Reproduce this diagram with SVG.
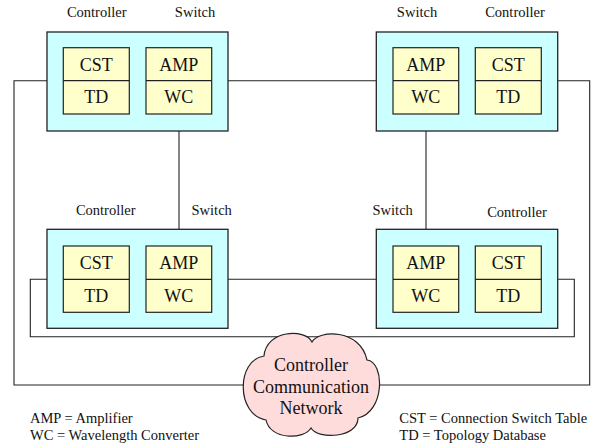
<svg xmlns="http://www.w3.org/2000/svg" width="592" height="446" viewBox="0 0 592 446">
<style>
text{font-family:'Liberation Serif','Times New Roman',serif;fill:#111}
.lbl{font-size:14.5px;text-anchor:middle}
.in{font-size:18px;text-anchor:middle}
.leg{font-size:14.5px}
.node{fill:#ccffff;stroke:#222;stroke-width:1.3}
.cell{fill:#ffffcc;stroke:#222;stroke-width:1.2}
.wire{fill:none;stroke:#222;stroke-width:1.1}
.cloud{fill:#ffdcdc;stroke:#222;stroke-width:1.2}
</style>
<g id="connectors">
<polyline class="wire" points="47,80.7 14,80.7 14,385 243,385"/>
<polyline class="wire" points="557.7,80.7 589.7,80.7 589.7,385 377.5,385"/>
<line class="wire" x1="228" y1="80.7" x2="376.3" y2="80.7"/>
<line class="wire" x1="179" y1="131" x2="179" y2="229.3"/>
<line class="wire" x1="426" y1="131" x2="426" y2="229.3"/>
<line class="wire" x1="228" y1="279.3" x2="376.3" y2="279.3"/>
<polyline class="wire" points="47,279.3 30.3,279.3 30.3,336.7 574.3,336.7 574.3,279.3 557.7,279.3"/>
</g>
<g id="node-tl">
<rect class="node" x="47" y="32" width="181" height="99"/>
<rect class="cell" x="63.3" y="47.7" width="66" height="66.3"/>
<line class="cell" x1="63.3" y1="80.7" x2="129.3" y2="80.7"/>
<rect class="cell" x="146" y="47.7" width="65.7" height="66.3"/>
<line class="cell" x1="146" y1="80.7" x2="211.7" y2="80.7"/>
<text class="in" x="96.3" y="70.7">CST</text>
<text class="in" x="96.3" y="103.3">TD</text>
<text class="in" x="178.8" y="70.7">AMP</text>
<text class="in" x="178.8" y="103.3">WC</text>
<text class="lbl" x="96.7" y="17.3">Controller</text>
<text class="lbl" x="195" y="17.3">Switch</text>
</g>
<g id="node-tr">
<rect class="node" x="376.3" y="32" width="181.4" height="99"/>
<rect class="cell" x="393" y="47.7" width="65.7" height="66.3"/>
<line class="cell" x1="393" y1="80.7" x2="458.7" y2="80.7"/>
<rect class="cell" x="475.3" y="47.7" width="66" height="66.3"/>
<line class="cell" x1="475.3" y1="80.7" x2="541.3" y2="80.7"/>
<text class="in" x="425.8" y="70.7">AMP</text>
<text class="in" x="425.8" y="103.3">WC</text>
<text class="in" x="508.3" y="70.7">CST</text>
<text class="in" x="508.3" y="103.3">TD</text>
<text class="lbl" x="417" y="17.3">Switch</text>
<text class="lbl" x="515" y="17.3">Controller</text>
</g>
<g id="node-bl">
<rect class="node" x="47" y="229.3" width="181" height="99"/>
<rect class="cell" x="63.3" y="246" width="66" height="66.3"/>
<line class="cell" x1="63.3" y1="279.3" x2="129.3" y2="279.3"/>
<rect class="cell" x="146" y="246" width="65.7" height="66.3"/>
<line class="cell" x1="146" y1="279.3" x2="211.7" y2="279.3"/>
<text class="in" x="96.3" y="269">CST</text>
<text class="in" x="96.3" y="301.6">TD</text>
<text class="in" x="178.8" y="269">AMP</text>
<text class="in" x="178.8" y="301.6">WC</text>
<text class="lbl" x="105.7" y="215">Controller</text>
<text class="lbl" x="211.7" y="215">Switch</text>
</g>
<g id="node-br">
<rect class="node" x="376.3" y="229.3" width="181.4" height="99"/>
<rect class="cell" x="393" y="246" width="65.7" height="66.3"/>
<line class="cell" x1="393" y1="279.3" x2="458.7" y2="279.3"/>
<rect class="cell" x="475.3" y="246" width="66" height="66.3"/>
<line class="cell" x1="475.3" y1="279.3" x2="541.3" y2="279.3"/>
<text class="in" x="425.8" y="269">AMP</text>
<text class="in" x="425.8" y="301.6">WC</text>
<text class="in" x="508.3" y="269">CST</text>
<text class="in" x="508.3" y="301.6">TD</text>
<text class="lbl" x="392.7" y="215">Switch</text>
<text class="lbl" x="517" y="217">Controller</text>
</g>
<g id="cloud">
<path class="cloud" d="M312,342 C318,330 360,328 367,360 C385,362 385,412 358,418 C358,438 318,440 311,428 C304,440 270,440 266,420 C236,415 236,360 264,356 C266,330 305,328 312,342 Z"/>
<text class="in" x="311" y="370.7">Controller</text>
<text class="in" x="311" y="392.7">Communication</text>
<text class="in" x="311" y="414">Network</text>
</g>
<g id="legend">
<text class="leg" x="30" y="422.7">AMP = Amplifier</text>
<text class="leg" x="30" y="440">WC = Wavelength Converter</text>
<text class="leg" x="399.3" y="422.7">CST = Connection Switch Table</text>
<text class="leg" x="399.3" y="439.5">TD = Topology Database</text>
</g>
</svg>
